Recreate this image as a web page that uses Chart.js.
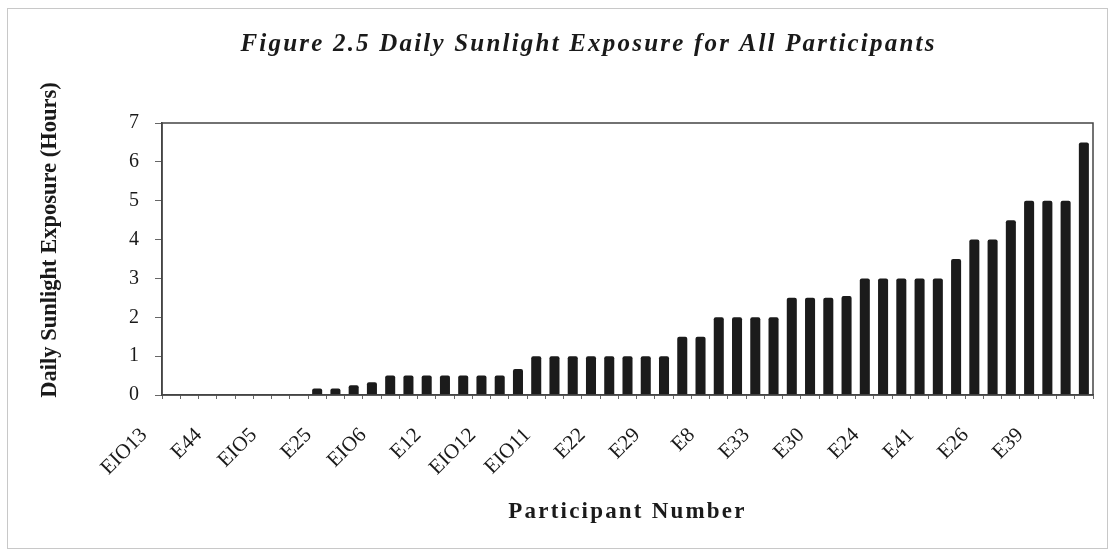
<!DOCTYPE html>
<html>
<head>
<meta charset="utf-8">
<script src="https://cdn.jsdelivr.net/npm/chart.js@4"></script>
<style>
  html, body { margin: 0; padding: 0; background: #fff; }
  #wrap { position: relative; width: 1111px; height: 551px; }
  #frame { position: absolute; left: 7px; top: 8px; right: 3px; bottom: 2px; border: 1px solid #c8c8c8; pointer-events: none; }
</style>
</head>
<body>
<div id="wrap">
  <canvas id="sunlight" width="1111" height="551"></canvas>
  <div id="frame"></div>
</div>
<script>
// participants (only every third name is printed on the axis)
const participants = [
  'EIO13', '', '', 'E44', '', '', 'EIO5', '', '', 'E25', '', '',
  'EIO6', '', '', 'E12', '', '', 'EIO12', '', '', 'EIO11', '', '',
  'E22', '', '', 'E29', '', '', 'E8', '', '', 'E33', '', '',
  'E30', '', '', 'E24', '', '', 'E41', '', '', 'E26', '', '',
  'E39', '', ''
];

// daily sunlight exposure, hours
const hours = [
  0, 0, 0, 0, 0, 0, 0, 0,
  0.17, 0.17, 0.25, 0.33,
  0.5, 0.5, 0.5, 0.5, 0.5, 0.5, 0.5,
  0.67,
  1, 1, 1, 1, 1, 1, 1, 1,
  1.5, 1.5,
  2, 2, 2, 2,
  2.5, 2.5, 2.5, 2.55,
  3, 3, 3, 3, 3,
  3.5,
  4, 4,
  4.5,
  5, 5, 5,
  6.5
];

const yTicks = [0, 1, 2, 3, 4, 5, 6, 7];

const serif = '"Liberation Serif", "Times New Roman", serif';

// box round the plot area, like the original
const plotBox = {
  id: 'plotBox',
  afterDraw(chart) {
    const a = chart.chartArea;
    const ctx = chart.ctx;
    ctx.save();
    ctx.strokeStyle = '#444';
    ctx.lineWidth = 1.5;
    ctx.strokeRect(a.left, a.top, a.right - a.left, a.bottom - a.top);
    ctx.restore();
  }
};

// letter spacing on the titles, and nudge titles to where the original has them
const titleTweaks = {
  id: 'titleTweaks',
  afterLayout(chart) {
    const ctx = chart.ctx;
    const t = chart.titleBlock;
    if (t && !t._tweaked) {
      const draw = t.draw.bind(t);
      t.draw = (area) => { ctx.save(); ctx.translate(42, 0); ctx.letterSpacing = '2.2px'; draw(area); ctx.restore(); };
      t._tweaked = true;
    }
    const x = chart.scales.x;
    if (x && !x._tweaked) {
      const dt = x.drawTitle.bind(x);
      x.drawTitle = () => { ctx.save(); ctx.letterSpacing = '2.2px'; dt(); ctx.restore(); };
      x._tweaked = true;
    }
    const y = chart.scales.y;
    if (y && !y._tweaked) {
      const dt = y.drawTitle.bind(y);
      y.drawTitle = () => { ctx.save(); ctx.translate(0, -19); dt(); ctx.restore(); };
      y._tweaked = true;
    }
  }
};

const ctx = document.getElementById('sunlight').getContext('2d');
const sunlightChart = new Chart(ctx, {
  type: 'bar',
  data: {
    labels: participants,
    datasets: [{
      label: 'Daily Sunlight Exposure',
      data: hours,
      backgroundColor: '#1b1b1b',
      borderColor: '#1b1b1b',
      borderWidth: 0,
      borderRadius: { topLeft: 2, topRight: 2 },
      borderSkipped: 'bottom',
      categoryPercentage: 1,
      barPercentage: 0.55
    }]
  },
  options: {
    responsive: false,
    animation: false,
    layout: { padding: { left: 0, right: 18, top: 0, bottom: 0 } },
    plugins: {
      legend: { display: false },
      tooltip: { enabled: false },
      title: {
        display: true,
        text: 'Figure 2.5 Daily Sunlight Exposure for All Participants',
        color: '#1a1a1a',
        font: { family: serif, size: 25, style: 'italic', weight: 'bold' },
        padding: { top: 30, bottom: 63 }
      }
    },
    scales: {
      x: {
        afterFit(scale) {
          scale.height = 156;
          scale.paddingLeft = 0;
          scale.paddingRight = 0;
        },
        grid: { display: true, drawOnChartArea: false, offset: true, tickLength: 4, color: '#666' },
        border: { display: true, color: '#444', width: 1.5 },
        ticks: {
          autoSkip: false,
          maxRotation: 45,
          minRotation: 45,
          labelOffset: -27,
          padding: 24,
          color: '#1a1a1a',
          font: { family: serif, size: 21 }
        },
        title: {
          display: true,
          text: 'Participant Number',
          color: '#1a1a1a',
          font: { family: serif, size: 23, weight: 'bold' },
          padding: { top: 25, bottom: 25 }
        }
      },
      y: {
        min: 0,
        max: 7,
        afterFit(scale) { scale.width = 162; },
        afterBuildTicks(scale) { scale.ticks = yTicks.map(v => ({ value: v })); },
        grid: { display: true, drawOnChartArea: false, tickLength: 7, color: '#666' },
        border: { display: true, color: '#444', width: 1.5 },
        ticks: {
          padding: 16,
          color: '#1a1a1a',
          font: { family: serif, size: 20 }
        },
        title: {
          display: true,
          text: 'Daily Sunlight Exposure (Hours)',
          color: '#1a1a1a',
          font: { family: serif, size: 22.5, weight: 'bold' },
          padding: { top: 37, bottom: 37 }
        }
      }
    }
  },
  plugins: [plotBox, titleTweaks]
});
</script>
</body>
</html>
